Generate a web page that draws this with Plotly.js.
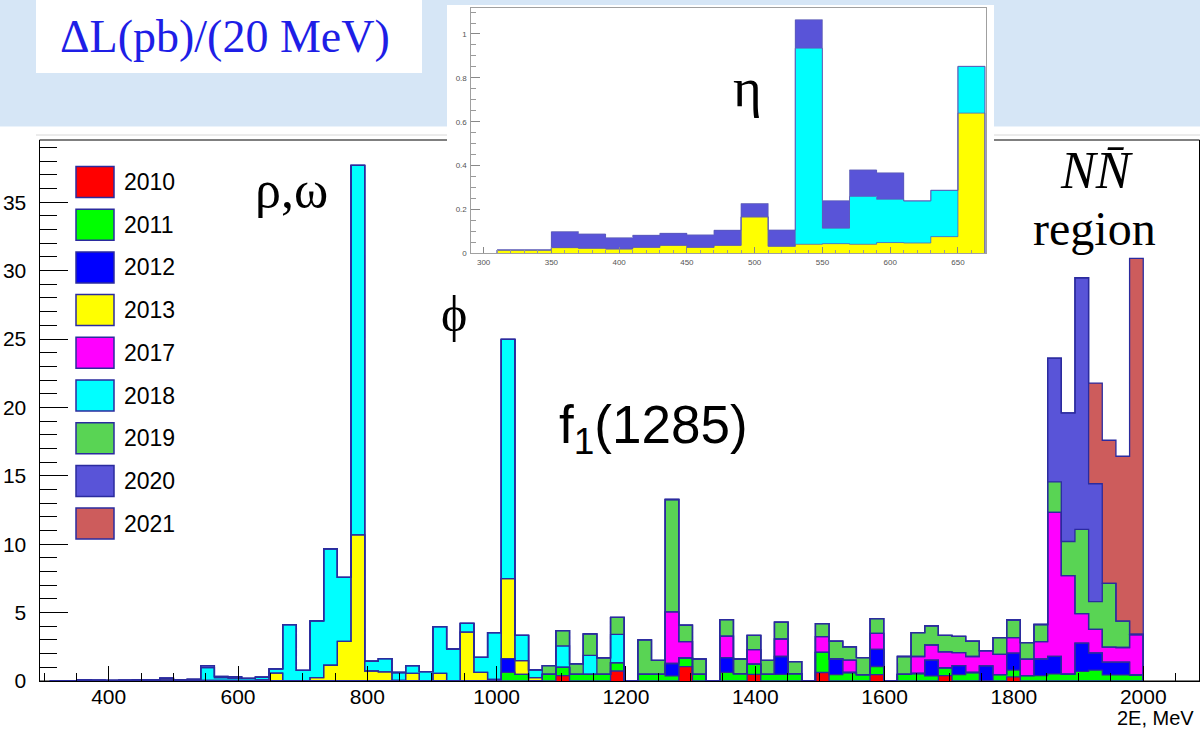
<!DOCTYPE html>
<html><head><meta charset="utf-8">
<script src="https://cdn.plot.ly/plotly-3.0.1.min.js"></script>
<style>html,body{margin:0;padding:0;background:#d6e6f6;}#chart{width:1200px;height:729px;}</style>
</head><body><div id="chart"></div>
<script>
// ---- main histogram binning: 80 bins between 310 and 2000 MeV ----
const binLow = 310, binHigh = 2000, nBins = 80;
const years = ['2010','2011','2012','2013','2017','2018','2019','2020','2021'];

const lum2010 = [
 0,0,0,0,0,0,0,0,0,0,
 0,0,0,0,0,0,0,0,0,0,
 0,0,0,0,0,0,0,0,0,0,
 0,0,0,0,0,0,0,0.39,0,0,
 0,0.73,0,0,0,0,1.05,0,0,0,
 0,0.49,0,0,0,0,0.62,0,0,0,
 0.46,0,0,0,0,0.39,0,0,0,0,
 0.3,0,0,0,0,0,0,0,0,0];
const lum2011 = [
 0,0,0,0,0,0,0,0,0,0,
 0,0,0,0,0,0,0,0,0,0,
 0,0,0,0,0,0,0,0,0,0,
 0,0,0,0.63,0.49,0,0.49,0.61,0.49,0.49,
 0.49,0.61,0,0.49,0.49,0.38,0.63,0.49,0,0.63,
 0.54,0.75,0.49,0.49,0.54,0,1.47,0.46,0.62,0.46,
 0.6,0,0.49,0.55,0.38,0.57,0.46,0.62,0,0.46,
 0.49,0.4,0.4,0.52,0.5,0.7,0.8,0.45,0.45,0.44];
const lum2012 = [
 0,0,0,0,0,0,0,0,0,0,
 0,0,0,0,0,0,0,0,0,0,
 0,0,0,0,0,0,0,0,0,0,
 0,0,0,1.0,0,0,0,0,0,0,
 0,0,0,0,0,0.9,0,0,0,1.08,
 0,0,0,1.3,0,0,0,1.15,0,0,
 1.25,0,0,0,1.14,0,0.66,0,1.11,0,
 1.25,0,1.21,1.28,0,2.07,1.25,0.92,0.92,0];
const lum2013 = [
 0.015,0.015,0.025,0.023,0.02,0.027,0.036,0.03,0.166,0.032,
 0.04,0.041,0.044,0.045,0.047,0.076,0.58,0,0,0.24,
 1.15,2.9,10.68,0.73,0.66,0.05,0.56,0,0.56,0,
 3.58,0.63,0.12,5.85,1.0,0.24,0,0,0,0,
 0,0,0,0,0,0,0,0,0,0,
 0,0,0,0,0,0,0,0,0,0,
 0,0,0,0,0,0,0,0,0,0,
 0,0,0,0,0,0,0,0,0,0];
const lum2017 = [
 0,0,0,0,0,0,0,0,0,0,
 0,0,0,0,0,0,0,0,0,0,
 0,0,0,0,0,0,0,0,0,0,
 0,0,0,0,0,0,0,0,0,0,
 0,0,0,0,0,3.77,1.2,0,0,1.56,
 0,1.05,0,1.28,0,0,1.15,0,0.91,0,
 1.17,0,0,1.24,1.11,1.17,0.96,1.17,1.11,1.49,
 1.13,1.2,1.27,10.53,7.2,2.15,1.73,1.1,1.08,2.96];
const lum2018 = [
 0,0,0,0,0,0,0,0,0,0,
 0,0.93,0.2,0.16,0.15,0.2,0.3,4.12,0.77,4.15,
 8.51,4.67,27.02,0.73,0.97,0.57,0.56,0.68,3.41,2.34,
 0.64,1.1,3.41,17.5,1.85,0.57,0,1.56,0,1.39,
 0,2.07,0,0,0,0,0,0,0,0,
 0,0,0,0,0,0,0,0,0,0,
 0,0,0,0,0,0,0,0,0,0,
 0,0,0,0,0,0,0,0,0,0];
const lum2019 = [
 0,0,0,0,0,0,0,0,0,0,
 0,0,0,0,0,0,0,0,0,0,
 0,0,0,0,0,0,0,0,0,0,
 0,0,0,0,0,0,0.63,1.12,0.77,1.56,
 1.21,1.24,0,2.51,1.02,8.22,1.21,1.12,0,1.21,
 1.07,1.05,1.02,1.24,0.87,0,0.96,1.3,0.96,1.25,
 1.08,0,1.3,1.74,1.4,1.2,1.18,1.13,0,1.22,
 1.29,1.2,1.25,2.22,2.5,6.16,2.02,4.66,1.93,0];
const lum2020 = [
 0,0,0.07,0.065,0.05,0.055,0.055,0.07,0.06,0.07,
 0.1,0.15,0.1,0.12,0,0,0,0,0,0,
 0,0,0,0,0,0,0,0,0,0,
 0,0,0,0,0,0,0,0,0,0,
 0,0,0,0,0,0,0,0,0,0,
 0,0,0,0,0,0,0,0,0,0,
 0,0,0,0,0,0,0,0,0,0,
 0,0,0,9.05,9.4,18.4,8.62,0,0,0];
const lum2021 = [
 0,0,0,0,0,0,0,0,0,0,
 0,0,0,0,0,0,0,0,0,0,
 0,0,0,0,0,0,0,0,0,0,
 0,0,0,0,0,0,0,0,0,0,
 0,0,0,0,0,0,0,0,0,0,
 0,0,0,0,0,0,0,0,0,0,
 0,0,0,0,0,0,0,0,0,0,
 0,0,0,0,0,0,7.35,10.47,12.05,27.5];

// ---- inset histogram (eta region): 18 bins between 310 and 670 MeV ----
const insetLow = 310, insetHigh = 670, nInset = 18;
const insetYears = ['2013','2018','2020'];
const inset2013 = [0.015,0.015,0.026,0.023,0.02,0.027,0.036,0.027,0.036,0.166,0.032,0.041,0.044,0.041,0.049,0.047,0.076,0.639];
const inset2018 = [0,0,0,0,0,0,0,0,0,0,0,0.894,0.07,0.218,0.197,0.192,0.211,0.213];
const inset2020 = [0,0,0.073,0.065,0.051,0.055,0.055,0.057,0.069,0.061,0.074,0.13,0.126,0.121,0.121,0,0,0];

// ---- styles ----
const colors = ['#ff0000','#00ff00','#0000ff','#ffff00','#ff00ff','#00ffff','#59d454','#5954d8','#cd5c5c'];
const insetColors = ['#ffff00','#00ffff','#5954d8'];
const outline = '#2b2b9e';
const W = 1200, H = 729;
const px = x => x / W, py = y => 1 - y / H;

function histTraces(series, cols, names, lo, hi, n, xa, ya, lw, lc) {
  const bw = (hi - lo) / n;
  const edges = Array.from({length: n + 1}, (_, i) => lo + i * bw);
  const centers = edges.slice(0, -1).map((e) => e + bw / 2);
  const bars = [], lines = [];
  let cum = new Array(n).fill(0);
  series.forEach((vals, j) => {
    bars.push({type: 'bar', x: centers, y: vals, width: bw, name: names[j],
      marker: {color: cols[j], line: {width: 0}}, xaxis: xa, yaxis: ya,
      showlegend: false, hoverinfo: 'x+y+name'});
    cum = cum.map((c, i) => c + vals[i]);
    const xs = [edges[0]], ys = [0];
    for (let i = 0; i < n; i++) { xs.push(edges[i]); ys.push(cum[i]); }
    xs.push(edges[n]); ys.push(cum[n - 1]);
    xs.push(edges[n]); ys.push(0);
    lines.push({type: 'scatter', mode: 'lines', x: xs, y: ys, xaxis: xa, yaxis: ya,
      line: {shape: 'hv', color: lc, width: lw}, showlegend: false, hoverinfo: 'skip'});
  });
  return bars.concat(lines);
}

const traces = histTraces(
  [lum2010, lum2011, lum2012, lum2013, lum2017, lum2018, lum2019, lum2020, lum2021],
  colors, years, binLow, binHigh, nBins, 'x', 'y', 1.3, outline
).concat(histTraces(
  [inset2013, inset2018, inset2020], insetColors, insetYears,
  insetLow, insetHigh, nInset, 'x2', 'y2', 0.8, '#5d5db8'
));

const sans = 'Liberation Sans, Arial, Helvetica, sans-serif';
const serif = 'Liberation Serif, Times New Roman, serif';

const shapes = [
  {type: 'rect', xref: 'paper', yref: 'paper', x0: 0, x1: 1, y0: 0, y1: py(126.5), fillcolor: '#ffffff', line: {width: 0}, layer: 'below'},
  {type: 'rect', xref: 'paper', yref: 'paper', x0: px(36), x1: px(422), y0: py(73), y1: 1, fillcolor: '#ffffff', line: {width: 0}, layer: 'below'},
  {type: 'line', xref: 'paper', yref: 'paper', x0: px(36), x1: 1, y0: py(135), y1: py(135), line: {color: '#d8d8d8', width: 1}, layer: 'below'},
  {type: 'rect', xref: 'paper', yref: 'paper', x0: px(39.5), x1: px(1199.5), y0: py(681), y1: py(140), line: {color: '#000', width: 1}, layer: 'below'},
  {type: 'rect', xref: 'paper', yref: 'paper', x0: px(447), x1: px(994), y0: py(290), y1: py(5), fillcolor: '#ffffff', line: {width: 0}, layer: 'below'}
];
const annotations = [
  {text: 'ΔL(pb)/(20 MeV)', x: px(225), y: py(37), font: {family: serif, size: 46, color: '#1e1ee6'}},
  {text: 'ρ,ω', x: px(291), y: py(189), font: {family: serif, size: 52, color: '#000'}},
  {text: 'ϕ', x: px(454), y: py(314), font: {family: serif, size: 50, color: '#000'}},
  {text: 'f<sub>1</sub>(1285)', x: px(653), y: py(428), font: {family: sans, size: 53, color: '#000'}},
  {text: '<i>N</i><i>N̄</i>', x: px(1097), y: py(171), font: {family: serif, size: 52, color: '#000'}},
  {text: 'region', x: px(1094), y: py(229), font: {family: serif, size: 48, color: '#000'}},
  {text: 'η', x: px(747), y: py(88), font: {family: serif, size: 55, color: '#000'}},
  {text: '2E, MeV', x: px(1196), y: py(718), xanchor: 'right', font: {family: sans, size: 20, color: '#000'}}
];
years.forEach((yr, i) => {
  const yc = 182 + 42.7 * i;
  shapes.push({type: 'rect', xref: 'paper', yref: 'paper', x0: px(76), x1: px(114),
    y0: py(yc + 15.5), y1: py(yc - 15.5), fillcolor: colors[i], line: {color: outline, width: 1.5}, layer: 'above'});
  annotations.push({text: yr, x: px(122), y: py(yc), xanchor: 'left',
    font: {family: sans, size: 23, color: '#000'}});
});
annotations.forEach(a => { a.xref = 'paper'; a.yref = 'paper'; a.showarrow = false;
  if (!a.xanchor) a.xanchor = 'center'; a.yanchor = 'middle'; });

const layout = {
  width: W, height: H, margin: {l: 0, r: 0, t: 0, b: 0},
  paper_bgcolor: '#d6e6f6', plot_bgcolor: 'rgba(0,0,0,0)',
  barmode: 'stack', bargap: 0, showlegend: false,
  font: {family: sans, color: '#000'},
  xaxis: {domain: [px(39.5), px(1199.5)], range: [293, 2087], anchor: 'y',
    showgrid: false, zeroline: false, showline: true, linecolor: '#000', linewidth: 1,
    ticks: 'inside', ticklen: 15, tickcolor: '#000', tickwidth: 1, dtick: 200, tick0: 0,
    minor: {dtick: 50, tick0: 0, ticks: 'inside', ticklen: 8, tickcolor: '#000', tickwidth: 1},
    tickfont: {family: sans, size: 21, color: '#000'}, ticklabelstandoff: -3},
  yaxis: {domain: [1 - 681 / H, 1 - 140 / H], range: [0, 39.55], anchor: 'x',
    showgrid: false, zeroline: false, showline: true, linecolor: '#000', linewidth: 1,
    ticks: 'inside', ticklen: 28, tickcolor: '#000', tickwidth: 1, dtick: 5, tick0: 0,
    minor: {dtick: 1, tick0: 0, ticks: 'inside', ticklen: 17, tickcolor: '#000', tickwidth: 1},
    tickfont: {family: sans, size: 21, color: '#000'}, ticklabelstandoff: 8},
  xaxis2: {domain: [px(471.4), px(985.7)], range: [291, 670.5], anchor: 'y2',
    showgrid: false, zeroline: false, showline: true, mirror: true, linecolor: '#a0a0a0', linewidth: 1,
    ticks: 'inside', ticklen: 6, tickcolor: '#888', dtick: 50, tick0: 0,
    minor: {dtick: 10, tick0: 0, ticks: 'inside', ticklen: 3, tickcolor: '#999'},
    tickfont: {family: sans, size: 8, color: '#555'}, ticklabelstandoff: 1},
  yaxis2: {domain: [1 - 253.3 / H, 1 - 8.3 / H], range: [0, 1.117], anchor: 'x2',
    showgrid: false, zeroline: false, showline: true, mirror: true, linecolor: '#a0a0a0', linewidth: 1,
    ticks: 'inside', ticklen: 9, tickcolor: '#888', dtick: 0.2, tick0: 0,
    minor: {dtick: 0.05, tick0: 0, ticks: 'inside', ticklen: 5, tickcolor: '#999'},
    tickfont: {family: sans, size: 8, color: '#555'}, ticklabelstandoff: 2},
  shapes: shapes, annotations: annotations
};
Plotly.newPlot('chart', traces, layout, {displayModeBar: false, staticPlot: true});
</script></body></html>
